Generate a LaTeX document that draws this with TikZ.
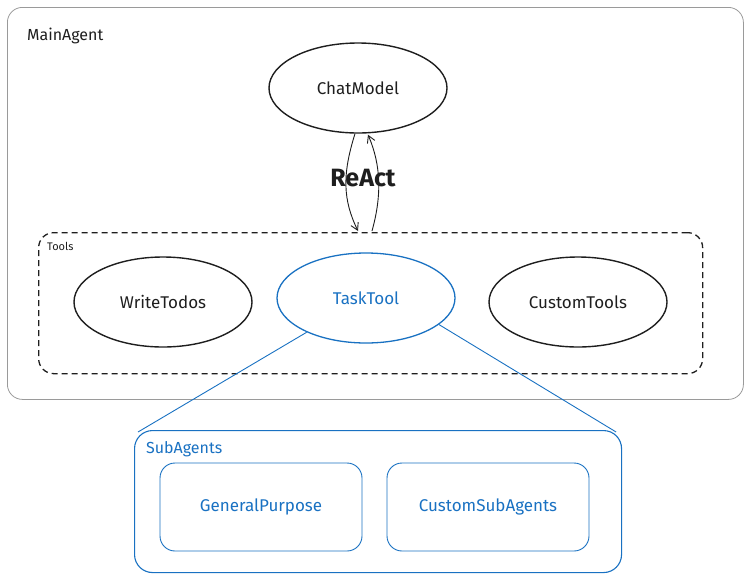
\documentclass[tikz,border=0pt]{standalone}
\usepackage{fontspec}
\setmainfont{Fira Sans}
\usetikzlibrary{shapes.geometric,arrows.meta,calc}
\definecolor{exblue}{HTML}{1971C2}
\definecolor{exgray}{HTML}{9A9A9A}
\definecolor{exink}{HTML}{1E1E1E}
\tikzset{
  ell/.style={ellipse, draw=exink, line width=1.4pt, minimum width=178pt, minimum height=90pt, inner sep=0pt, font=\fontsize{17}{19}\selectfont, text=exink},
  blueell/.style={ell, draw=exblue, text=exblue, line width=1.3pt},
  subbox/.style={draw=exblue, rounded corners=15pt, line width=0.9pt, minimum width=202pt, minimum height=88pt, font=\fontsize{17}{19}\selectfont, text=exblue},
  lbl/.style={anchor=west, inner sep=0pt},
  conn/.style={draw=exink, line width=0.9pt, -{Straight Barb[length=7pt,width=8pt]}},
  zoomline/.style={draw=exblue, line width=0.9pt}
}
\begin{document}
\begin{tikzpicture}[x=1pt,y=-1pt]
\useasboundingbox (0,0) rectangle (747,579);
% Main agent frame
\node[draw=exgray, line width=0.8pt, rounded corners=15pt, minimum width=736pt, minimum height=392pt, anchor=north west, inner sep=0pt] (main) at (7,7) {};
\node[lbl, font=\fontsize{16}{18}\selectfont, text=exink] (mainlbl) at (27,36) {MainAgent};
% ChatModel
\node[ell] (cm) at (358,88) {ChatModel};
\node[font=\fontsize{25}{28}\selectfont\bfseries, text=exink] (react) at (363,178) {ReAct};
% Tools frame
\node[draw=exink, dashed, dash pattern=on 6pt off 4pt, line width=1.3pt, rounded corners=15pt, minimum width=664pt, minimum height=141pt, anchor=north west, inner sep=0pt] (tools) at (38,232) {};
\node[lbl, font=\fontsize{11}{13}\selectfont, text=exink] (toolslbl) at (47,246) {Tools};
\node[ell] (wt) at (163,302) {WriteTodos};
\node[blueell] (tt) at (366,298) {TaskTool};
\node[ell] (ct) at (578,302) {CustomTools};
% ReAct arrows
\coordinate (l1) at ($(cm.south)+(-3,0)$);
\coordinate (l2) at (358,231);
\coordinate (r1) at (372,231);
\coordinate (r2) at ($(cm.south)+(10,1)$);
\draw[conn] (l1) .. controls (342,175) and (343,200) .. (l2);
\draw[conn] (r1) .. controls (382,195) and (381,165) .. (r2);
% SubAgents frame
\node[draw=exblue, line width=1.1pt, rounded corners=18pt, minimum width=487pt, minimum height=142pt, anchor=north west, inner sep=0pt] (sub) at (134,430) {};
\node[lbl, font=\fontsize{16}{18}\selectfont, text=exblue] (sublbl) at (146,449) {SubAgents};
\node[subbox] (gp) at (261,507) {GeneralPurpose};
\node[subbox] (cs) at (488,507) {CustomSubAgents};
% zoom lines
\draw[zoomline] (tt.-150) -- ($(sub.north west)+(4,2)$);
\draw[zoomline] (tt.-20) -- ($(sub.north east)+(-6,2)$);
\end{tikzpicture}
\end{document}
